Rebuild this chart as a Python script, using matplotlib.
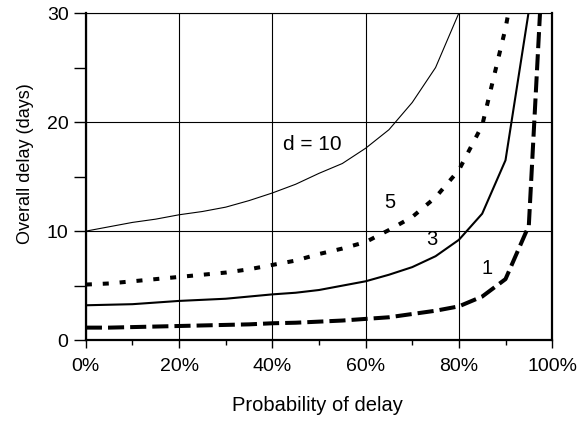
import matplotlib
matplotlib.use('Agg')
import matplotlib.pyplot as plt
from matplotlib.ticker import MultipleLocator, PercentFormatter

plt.rcParams['font.family'] = ['Liberation Sans', 'DejaVu Sans']

# probability of delay (%) and overall delay (days)
p10 = [0, 5, 10, 15, 20, 25, 30, 35, 40, 45, 50, 55, 60, 65, 70, 75, 80, 85]
d10 = [10.0, 10.4, 10.8, 11.1, 11.5, 11.8, 12.2, 12.8, 13.5, 14.3, 15.3, 16.2,
       17.6, 19.3, 21.8, 25.0, 30.0, 38.0]

p5 = [0, 5, 10, 15, 20, 25, 30, 35, 40, 45, 50, 55, 60, 65, 70, 75, 80, 85, 90, 95]
d5 = [5.1, 5.2, 5.4, 5.6, 5.8, 6.0, 6.2, 6.5, 6.9, 7.3, 7.9, 8.4, 9.0, 10.1,
      11.3, 13.1, 15.6, 19.7, 28.6, 40.0]

p3 = [0, 5, 10, 15, 20, 25, 30, 35, 40, 45, 50, 55, 60, 65, 70, 75, 80, 85, 90, 95, 99]
d3 = [3.2, 3.25, 3.3, 3.45, 3.6, 3.7, 3.8, 4.0, 4.2, 4.35, 4.6, 5.0, 5.4, 6.0,
      6.7, 7.7, 9.2, 11.6, 16.5, 30.2, 100.0]

p1 = [0, 5, 10, 15, 20, 25, 30, 35, 40, 45, 50, 55, 60, 65, 70, 75, 80, 85, 90, 95, 99]
d1 = [1.15, 1.15, 1.2, 1.25, 1.3, 1.35, 1.4, 1.45, 1.55, 1.6, 1.7, 1.8, 1.95,
      2.1, 2.4, 2.7, 3.1, 4.0, 5.6, 10.5, 43.0]

fig = plt.figure(figsize=(5.88, 4.21), dpi=100)
ax = fig.add_axes([0.146, 0.192, 0.793, 0.777])

ax.plot(p10, d10, color='black', lw=0.8)
ax.plot(p5, d5, color='black', lw=2.9, linestyle=(0, (1.5, 2.7)))
ax.plot(p3, d3, color='black', lw=1.5)
ax.plot(p1, d1, color='black', lw=2.9, linestyle=(0, (4.0, 1.5)))

ax.text(48.5, 17.9, 'd = 10', fontsize=15, ha='center', va='center')
ax.text(65.2, 12.6, '5', fontsize=14.5, ha='center', va='center')
ax.text(74.2, 9.2, '3', fontsize=14.5, ha='center', va='center')
ax.text(86, 6.6, '1', fontsize=14.5, ha='center', va='center')

ax.set_xlim(0, 100)
ax.set_ylim(0, 30)
ax.xaxis.set_major_locator(MultipleLocator(20))
ax.xaxis.set_minor_locator(MultipleLocator(10))
ax.xaxis.set_major_formatter(PercentFormatter(decimals=0))
ax.yaxis.set_major_locator(MultipleLocator(10))
ax.yaxis.set_minor_locator(MultipleLocator(5))
ax.tick_params(axis='x', which='major', direction='out', length=6, width=1, labelsize=14, pad=7)
ax.tick_params(axis='x', which='minor', direction='out', length=3.6, width=1)
ax.tick_params(axis='y', which='major', direction='out', length=8.5, width=1, labelsize=14, pad=4)
ax.tick_params(axis='y', which='minor', direction='out', length=8.5, width=1)
ax.grid(True, which='major', color='black', lw=0.8)

for s in ax.spines.values():
    s.set_linewidth(1.6)
ax.spines['top'].set_linewidth(0.8)

ax.set_xlabel('Probability of delay', fontsize=14.5)
ax.xaxis.set_label_coords(0.497, -0.171)
ax.set_ylabel('Overall delay (days)', fontsize=13)
ax.yaxis.set_label_coords(-0.112, 0.541)

fig.savefig('out.png', dpi=100)
